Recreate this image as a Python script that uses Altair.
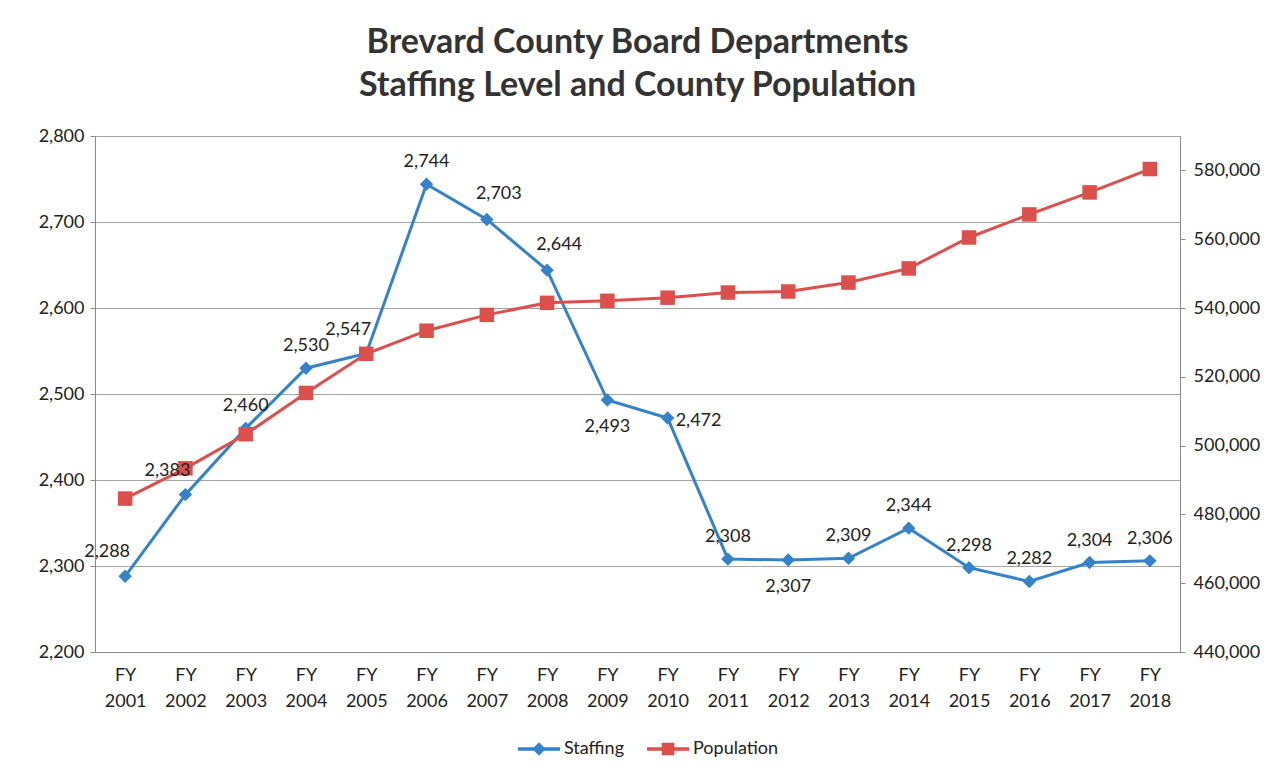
import altair as alt
import pandas as pd

years = ["FY 2001", "FY 2002", "FY 2003", "FY 2004", "FY 2005", "FY 2006",
         "FY 2007", "FY 2008", "FY 2009", "FY 2010", "FY 2011", "FY 2012",
         "FY 2013", "FY 2014", "FY 2015", "FY 2016", "FY 2017", "FY 2018"]
staffing = [2288, 2383, 2460, 2530, 2547, 2744, 2703, 2644, 2493, 2472,
            2308, 2307, 2309, 2344, 2298, 2282, 2304, 2306]
population = [484600, 493400, 503300, 515300, 526700, 533400, 538000, 541500,
              542100, 543000, 544500, 544800, 547400, 551500, 560500, 567200,
              573600, 580400]
series_names = ["Staffing", "Population"]
left_ticks = [2200, 2300, 2400, 2500, 2600, 2700, 2800]
right_ticks = [440000, 460000, 480000, 500000, 520000, 540000, 560000, 580000]

# label placement groups for the staffing data labels
labels_below = ["FY 2009", "FY 2012"]
labels_right = ["FY 2010"]
labels_upleft = ["FY 2001", "FY 2002", "FY 2005"]
labels_upright = ["FY 2007", "FY 2008"]

BLUE = "#3482C9"
RED = "#DC4F4B"
FONT = "Lato"
FS = 18


def placement(y):
    if y in labels_below:
        return "below"
    if y in labels_right:
        return "right"
    if y in labels_upleft:
        return "upleft"
    if y in labels_upright:
        return "upright"
    return "above"


df = pd.DataFrame({"year": years, "staffing": staffing, "population": population})
df["place"] = [placement(y) for y in years]

x_enc = alt.X("year:N", sort=years,
              scale=alt.Scale(type="point", padding=0.5),
              axis=alt.Axis(title=None, labelAngle=0, ticks=False,
                            labelExpr="split(datum.label, ' ')",
                            labelLineHeight=26, labelPadding=14,
                            labelFontSize=FS, labelFont=FONT, labelColor="#222",
                            domainColor="#8a8a8a"))

left_scale = alt.Scale(domain=[2200, 2800], nice=False, zero=False)
y_left = alt.Y("staffing:Q", scale=left_scale,
               axis=alt.Axis(title=None, values=left_ticks,
                             format=",.0f", grid=True, gridColor="#a5a5a5", gridWidth=1,
                             tickColor="#8a8a8a", tickSize=5, labelPadding=6,
                             domainColor="#8a8a8a",
                             labelFontSize=FS, labelFont=FONT, labelColor="#222"))
y_left_noaxis = alt.Y("staffing:Q", scale=left_scale, axis=None)

y_right = alt.Y("population:Q",
                scale=alt.Scale(domain=[440000, 590000], nice=False, zero=False),
                axis=alt.Axis(title=None, orient="right", values=right_ticks,
                              format=",.0f", grid=False, tickColor="#8a8a8a", tickSize=5,
                              labelPadding=8, domainColor="#8a8a8a",
                              labelFontSize=FS, labelFont=FONT, labelColor="#222"))

base = alt.Chart(df)

staff_line = base.mark_line(color=BLUE, strokeWidth=3).encode(x=x_enc, y=y_left)
staff_pts = base.mark_point(shape="diamond", filled=True, size=180, color=BLUE, opacity=1).encode(
    x=x_enc, y=y_left)
left_layer = alt.layer(staff_line, staff_pts)

pop_line = base.mark_line(color=RED, strokeWidth=3).encode(x=x_enc, y=y_right)
pop_pts = base.mark_point(shape="square", filled=True, size=210, color=RED, opacity=1).encode(x=x_enc, y=y_right)
right_layer = alt.layer(pop_line, pop_pts)

lbl_style = dict(fontSize=FS, font=FONT, color="#222", baseline="middle")
txt = alt.Text("staffing:Q", format=",.0f")


def label_layer(place, **kw):
    return base.transform_filter(f"datum.place == '{place}'").mark_text(
        **lbl_style, **kw).encode(x=x_enc, y=y_left_noaxis, text=txt)


labels = alt.layer(
    label_layer("above", dy=-22),
    label_layer("below", dy=27),
    label_layer("right", dx=8, dy=3, align="left"),
    label_layer("upleft", dx=-18, dy=-24),
    label_layer("upright", dx=12, dy=-25),
)

# legend carrier layer
leg_df = pd.DataFrame({"series": series_names})
line_diamond = "M-1,-0.08 H1 V0.08 H-1 Z M0,-0.32 L0.32,0 L0,0.32 L-0.32,0 Z"
line_square = "M-1,-0.08 H1 V0.08 H-1 Z M-0.3,-0.3 H0.3 V0.3 H-0.3 Z"
leg = alt.Legend(title=None, orient="none", legendX=423, legendY=592,
                 direction="horizontal", columns=2, columnPadding=22,
                 symbolSize=1764, symbolOpacity=1, symbolStrokeWidth=0,
                 labelFontSize=FS, labelFont=FONT, labelColor="#222",
                 labelOffset=4, padding=0)
legend_layer = alt.Chart(leg_df).mark_point(filled=True, opacity=0).encode(
    x=alt.value(0), y=alt.value(0),
    color=alt.Color("series:N", scale=alt.Scale(domain=series_names, range=[BLUE, RED]), legend=leg),
    shape=alt.Shape("series:N", scale=alt.Scale(domain=series_names, range=[line_diamond, line_square]),
                    legend=leg),
)

chart = alt.layer(left_layer, right_layer, labels, legend_layer).resolve_scale(y="independent").properties(
    width=1085, height=516,
    title=alt.TitleParams(["Brevard County Board Departments", "Staffing Level and County Population"],
                          font=FONT, fontSize=34, fontWeight="bold", color="#333",
                          lineHeight=43, anchor="middle", frame="group", offset=24),
    padding={"left": 87, "top": 128, "right": 90, "bottom": 120},
    autosize=alt.AutoSizeParams(type="none"),
).configure_view(stroke=None).configure(background="white")

chart.save("out.html", embed_options={"renderer": "svg", "actions": False})
